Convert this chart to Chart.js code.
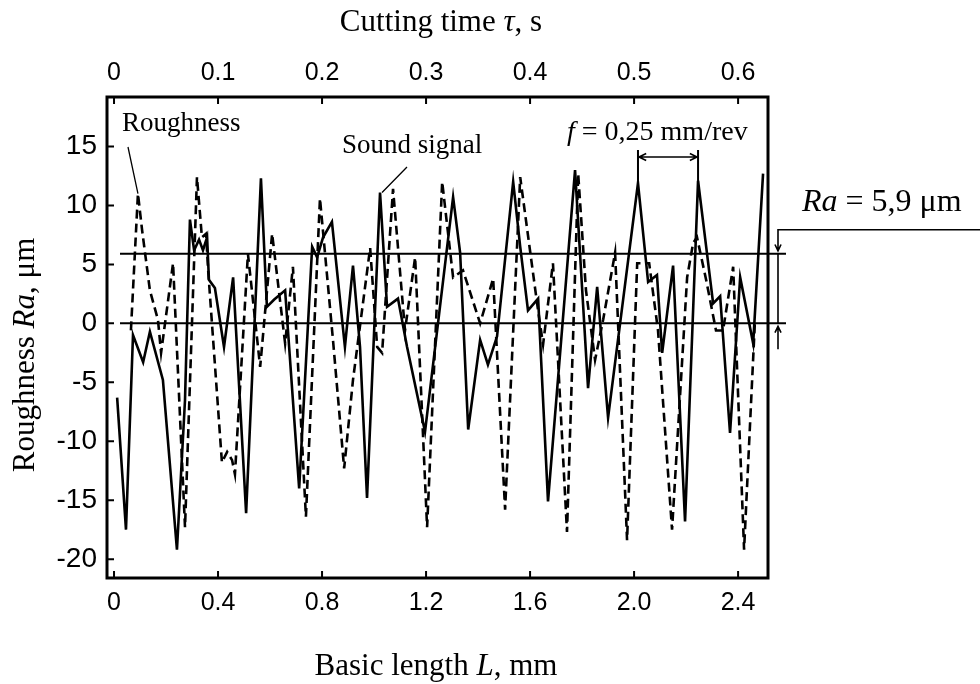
<!DOCTYPE html>
<html><head><meta charset="utf-8">
<script src="https://cdn.jsdelivr.net/npm/chart.js@4.4.1/dist/chart.umd.min.js"></script>
<style>html,body{margin:0;padding:0;background:#fff}#wrap{width:980px;height:684px}</style>
</head><body><div id="wrap"><canvas id="c" width="980" height="684"></canvas></div>
<script>
// ---- data ----
const roughL = [0.012,0.046,0.073,0.112,0.138,0.188,0.242,0.273,0.292,0.308,0.327,0.342,0.358,0.365,0.388,0.423,0.458,0.508,0.565,0.588,0.615,0.658,0.712,0.762,0.781,0.804,0.838,0.888,0.919,0.946,0.973,1.023,1.05,1.092,1.127,1.196,1.304,1.331,1.362,1.408,1.438,1.473,1.535,1.562,1.592,1.631,1.669,1.773,1.823,1.858,1.9,2.015,2.054,2.088,2.108,2.15,2.196,2.246,2.304,2.331,2.369,2.408,2.458,2.496];
const roughRa = [-6.3,-17.5,-1.0,-3.3,-0.7,-4.8,-19.2,-6.5,8.8,6.2,7.1,6.2,7.3,3.7,3.0,-2.0,3.9,-16.1,12.3,1.4,2.0,2.8,-14.0,6.5,5.6,7.3,8.6,-2.0,4.9,-2.0,-14.8,11.1,1.4,2.1,-2.0,-9.2,10.7,6.0,-9.0,-1.4,-3.5,-1.1,12.0,6.5,1.1,2.1,-15.1,13.0,-5.5,3.1,-8.0,11.9,3.5,4.1,-2.5,4.9,-16.8,12.1,1.7,2.3,-9.3,3.9,-1.7,12.7];
const soundL = [0.065,0.092,0.108,0.138,0.169,0.181,0.227,0.273,0.319,0.338,0.354,0.362,0.415,0.435,0.454,0.465,0.515,0.562,0.608,0.658,0.688,0.738,0.792,0.842,0.885,0.919,0.985,1.012,1.031,1.073,1.119,1.158,1.204,1.262,1.304,1.342,1.408,1.458,1.504,1.562,1.627,1.65,1.688,1.742,1.785,1.815,1.85,1.881,1.927,1.973,2.012,2.058,2.092,2.146,2.204,2.227,2.242,2.277,2.315,2.342,2.381,2.423,2.465];
const soundRa = [-0.6,11.0,7.9,2.8,0.3,-2.5,5.1,-17.3,12.4,7.3,7.6,4.5,-11.8,-10.9,-11.6,-12.8,5.9,-3.7,7.6,-1.7,4.8,-16.4,10.6,-1.4,-12.3,-4.8,6.4,-2.0,-2.5,11.4,-0.6,5.6,-17.3,12.0,3.9,4.5,0,3.8,-15.8,12.4,1.7,-1.8,5.1,-17.7,12.7,2.8,-3.1,0.3,6.0,-18.4,5.1,5.1,-0.6,-17.5,3.9,6.8,7.3,3.7,-0.6,-0.6,4.8,-19.2,0.3];

const lengthTicks = [0,0.4,0.8,1.2,1.6,2.0,2.4];
const lengthTickLabels = ['0','0.4','0.8','1.2','1.6','2.0','2.4'];
const timeTicks = [0,0.1,0.2,0.3,0.4,0.5,0.6];
const timeTickLabels = ['0','0.1','0.2','0.3','0.4','0.5','0.6'];
const raTicks = [15,10,5,0,-5,-10,-15,-20];
const raTickLabels = ['15','10','5','0','-5','-10','-15','-20'];

const raValue = 5.9;             // mean roughness line
const feedMarkL = [2.015, 2.246]; // the two roughness peaks one feed apart
const lengthRange = [-0.027, 2.515];
const raRange = [-21.6, 19.2];
const timePerLength = 0.25;      // tau = L * 0.25

// ---- helpers ----
const SANS = "'Liberation Sans', Arial, sans-serif";
const SERIF = "'Liberation Serif', 'Times New Roman', serif";

function mixedText(ctx, parts, x, y, size, align) {
  const widths = parts.map(([t, it]) => { ctx.font = (it ? 'italic ' : '') + size + 'px ' + SERIF; return ctx.measureText(t).width; });
  const total = widths.reduce((a, b) => a + b, 0);
  let cx = align === 'center' ? x - total / 2 : x;
  ctx.textAlign = 'left';
  ctx.textBaseline = 'alphabetic';
  parts.forEach(([t, it], i) => {
    ctx.font = (it ? 'italic ' : '') + size + 'px ' + SERIF;
    ctx.fillText(t, cx, y);
    cx += widths[i];
  });
}
function arrowHead(ctx, x, y, dx, dy, len) {
  const ang = Math.atan2(dy, dx);
  ctx.moveTo(x - len * Math.cos(ang - 0.45), y - len * Math.sin(ang - 0.45));
  ctx.lineTo(x, y);
  ctx.lineTo(x - len * Math.cos(ang + 0.45), y - len * Math.sin(ang + 0.45));
}

const deco = {
  id: 'deco',
  afterDraw(chart) {
    const { ctx, chartArea: a, scales } = chart;
    const xs = scales.x, ys = scales.y, xt = scales.x2;
    ctx.save();
    ctx.strokeStyle = '#000'; ctx.fillStyle = '#000';
    ctx.lineCap = 'butt';
    // frame
    ctx.lineWidth = 3;
    ctx.strokeRect(a.left, a.top, a.right - a.left, a.bottom - a.top);
    // inward ticks
    ctx.lineWidth = 2;
    ctx.beginPath();
    lengthTicks.forEach(v => { const p = xs.getPixelForValue(v); ctx.moveTo(p, a.bottom); ctx.lineTo(p, a.bottom - 7); });
    timeTicks.forEach(v => { const p = xt.getPixelForValue(v); ctx.moveTo(p, a.top); ctx.lineTo(p, a.top + 7); });
    raTicks.forEach(v => { const p = ys.getPixelForValue(v); ctx.moveTo(a.left, p); ctx.lineTo(a.left + 7, p); });
    ctx.stroke();
    // reference lines at 0 and Ra
    const y0 = ys.getPixelForValue(0), yRa = ys.getPixelForValue(raValue);
    const xStart = xs.getPixelForValue(0.023);
    ctx.lineWidth = 2;
    ctx.beginPath();
    ctx.moveTo(xStart, y0); ctx.lineTo(a.right + 18, y0);
    ctx.moveTo(xStart, yRa); ctx.lineTo(a.right + 18, yRa);
    ctx.stroke();
    // Ra dimension
    const dx = a.right + 10;
    ctx.lineWidth = 1.6;
    ctx.beginPath();
    ctx.moveTo(dx, yRa); ctx.lineTo(dx, y0);
    ctx.moveTo(980, yRa - 24); ctx.lineTo(dx, yRa - 24); ctx.lineTo(dx, yRa - 3);
    arrowHead(ctx, dx, yRa - 3, 0, 1, 7);
    ctx.moveTo(dx, y0 + 26); ctx.lineTo(dx, y0 + 3);
    arrowHead(ctx, dx, y0 + 3, 0, -1, 7);
    ctx.stroke();
    mixedText(ctx, [['Ra', true], [' = 5,9 \u03bcm', false]], 802, yRa - 43, 32, 'left');
    // feed annotation
    const fx = feedMarkL.map(v => xs.getPixelForValue(v));
    const fy = feedMarkL.map(v => ys.getPixelForValue(roughRa[roughL.indexOf(v)]));
    ctx.lineWidth = 2;
    ctx.beginPath();
    ctx.moveTo(fx[0], 150); ctx.lineTo(fx[0], fy[0] + 4);
    ctx.moveTo(fx[1], 150); ctx.lineTo(fx[1], fy[1] + 4);
    ctx.stroke();
    ctx.lineWidth = 1.6;
    ctx.beginPath();
    ctx.moveTo(fx[0] + 1, 157); ctx.lineTo(fx[1] - 1, 157);
    arrowHead(ctx, fx[0] + 1, 157, -1, 0, 8);
    arrowHead(ctx, fx[1] - 1, 157, 1, 0, 8);
    ctx.stroke();
    mixedText(ctx, [['f', true], [' = 0,25 mm/rev', false]], 567, 140, 28, 'left');
    // labels with leader lines
    const rPk = soundL.indexOf(0.092);
    const rx = xs.getPixelForValue(soundL[rPk]), ry = ys.getPixelForValue(soundRa[rPk]);
    const sPk = roughL.indexOf(1.023);
    const sx = xs.getPixelForValue(roughL[sPk]), sy = ys.getPixelForValue(roughRa[sPk]);
    ctx.lineWidth = 1.3;
    ctx.beginPath();
    ctx.moveTo(128, 147); ctx.lineTo(rx, ry);
    ctx.moveTo(407, 167); ctx.lineTo(sx + 2, sy);
    ctx.stroke();
    mixedText(ctx, [['Roughness', false]], 122, 131, 27, 'left');
    mixedText(ctx, [['Sound signal', false]], 342, 153, 27, 'left');
    // axis titles
    mixedText(ctx, [['Cutting time ', false], ['\u03c4', true], [', s', false]], 441, 31, 31, 'center');
    mixedText(ctx, [['Basic length ', false], ['L', true], [', mm', false]], 436, 675, 31, 'center');
    ctx.translate(34, 355);
    ctx.rotate(-Math.PI / 2);
    mixedText(ctx, [['Roughness ', false], ['Ra', true], [', \u03bcm', false]], 0, 0, 31, 'center');
    ctx.restore();
  }
};

const tickFontX = { family: SANS, size: 25 };
const tickFontY = { family: SANS, size: 28 };

new Chart(document.getElementById('c'), {
  type: 'scatter',
  data: {
    datasets: [
      { label: 'Roughness', data: roughL.map((v, i) => ({ x: v, y: roughRa[i] })), showLine: true,
        borderColor: '#000', borderWidth: 2.6, pointRadius: 0, tension: 0, xAxisID: 'x', yAxisID: 'y' },
      { label: 'Sound signal', data: soundL.map((v, i) => ({ x: v, y: soundRa[i] })), showLine: true,
        borderColor: '#000', borderWidth: 2.6, borderDash: [9, 5], pointRadius: 0, tension: 0, xAxisID: 'x', yAxisID: 'y' }
    ]
  },
  options: {
    responsive: false, animation: false, devicePixelRatio: 1,
    layout: { padding: { left: 50, right: 212, top: 50, bottom: 50 } },
    plugins: { legend: { display: false }, tooltip: { enabled: false } },
    scales: {
      x: {
        type: 'linear', position: 'bottom', min: lengthRange[0], max: lengthRange[1],
        afterBuildTicks: s => { s.ticks = lengthTicks.map(v => ({ value: v })); },
        afterFit: s => { s.height = 56; },
        ticks: { callback: (v, i) => lengthTickLabels[i], font: tickFontX, color: '#000', padding: 10, maxRotation: 0, autoSkip: false },
        grid: { display: false, drawTicks: false }, border: { display: false }
      },
      x2: {
        type: 'linear', axis: 'x', position: 'top', min: lengthRange[0] * timePerLength, max: lengthRange[1] * timePerLength,
        afterBuildTicks: s => { s.ticks = timeTicks.map(v => ({ value: v })); },
        afterFit: s => { s.height = 47; },
        ticks: { callback: (v, i) => timeTickLabels[i], font: tickFontX, color: '#000', padding: 9, maxRotation: 0, autoSkip: false },
        grid: { display: false, drawTicks: false }, border: { display: false }
      },
      y: {
        type: 'linear', position: 'left', min: raRange[0], max: raRange[1],
        afterBuildTicks: s => { s.ticks = raTicks.map(v => ({ value: v })); },
        afterFit: s => { s.width = 57; },
        ticks: { callback: (v, i) => raTickLabels[i], font: tickFontY, color: '#000', padding: 10, autoSkip: false },
        grid: { display: false, drawTicks: false }, border: { display: false }
      }
    }
  },
  plugins: [deco]
});
</script>
</body></html>
